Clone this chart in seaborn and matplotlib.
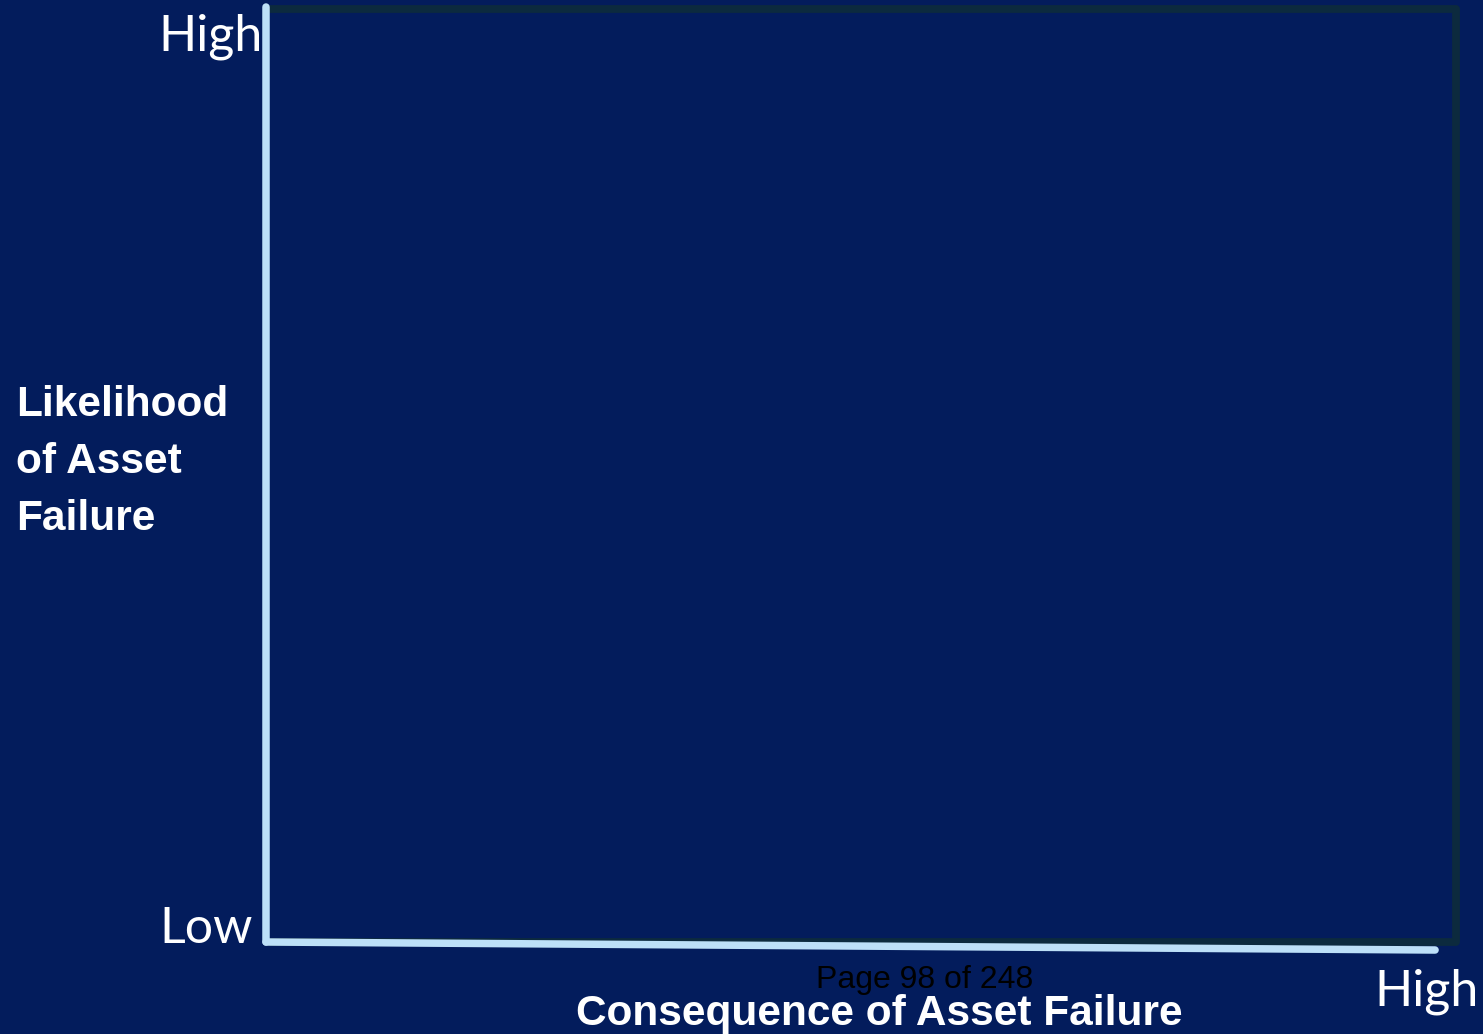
import matplotlib
matplotlib.use("Agg")
import matplotlib.pyplot as plt
import seaborn as sns

# -----------------------------
# Chart text
# -----------------------------
Y_TITLE = "Likelihood\nof Asset\nFailure"
X_TITLE = "Consequence of Asset Failure"
Y_LEVELS = ["Low", "High"]
X_LEVELS = ["High"]
PAGE_NOTE = "Page 98 of 248"

BG = "#031C5C"
BORDER = "#0C2A3E"
AXIS = "#BDE0F8"

sns.set_theme(style="white")
plt.rcParams["font.family"] = ["Liberation Sans", "DejaVu Sans"]

fig = plt.figure(figsize=(14.83, 10.34), dpi=100)
fig.patch.set_facecolor(BG)

ax = fig.add_axes([266 / 1483, 92 / 1034, 1191 / 1483, 932 / 1034])
ax.set_facecolor(BG)
ax.set_xlim(0, 1)
ax.set_ylim(0, 1)
ax.set_xticks([])
ax.set_yticks([])
for s in ax.spines.values():
    s.set_visible(False)

# dark frame around the matrix area
ax.plot([0.003, 0.999, 0.999, 0.003], [1.001, 1.001, 0.0, 0.0],
        color=BORDER, lw=5.6, solid_capstyle="round", solid_joinstyle="round",
        clip_on=False, zorder=2)

# light axis lines (x axis slopes slightly)
ax.plot([0.0, 0.0], [1.003, 0.0], color=AXIS, lw=5.4,
        solid_capstyle="round", clip_on=False, zorder=3)
ax.plot([0.0, 0.9816], [0.0, -0.0086], color=AXIS, lw=5.4,
        solid_capstyle="round", clip_on=False, zorder=3)

# level labels
light = dict(family=["Lato", "DejaVu Sans"], weight="normal", color="white", size=36)
fig.text(263 / 1483, 1 - 37 / 1034, Y_LEVELS[1], ha="right", va="center", **light)
fig.text(253 / 1483, 1 - 929 / 1034, Y_LEVELS[0], ha="right", va="center", **light)
fig.text(1479 / 1483, 1 - 992 / 1034, X_LEVELS[0], ha="right", va="center", **light)

# axis titles
fig.text(16 / 1483, 1 - 462 / 1034, Y_TITLE, ha="left", va="center",
         color="white", weight="bold", size=30.5, linespacing=1.54)
fig.text(879 / 1483, 1 - 1014 / 1034, X_TITLE, ha="center", va="center",
         color="white", weight="bold", size=30.5)

# page footer text
fig.text(925 / 1483, 1 - 980 / 1034, PAGE_NOTE, ha="center", va="center",
         color="black", size=23)

fig.savefig("out.png", dpi=100, facecolor=BG)
